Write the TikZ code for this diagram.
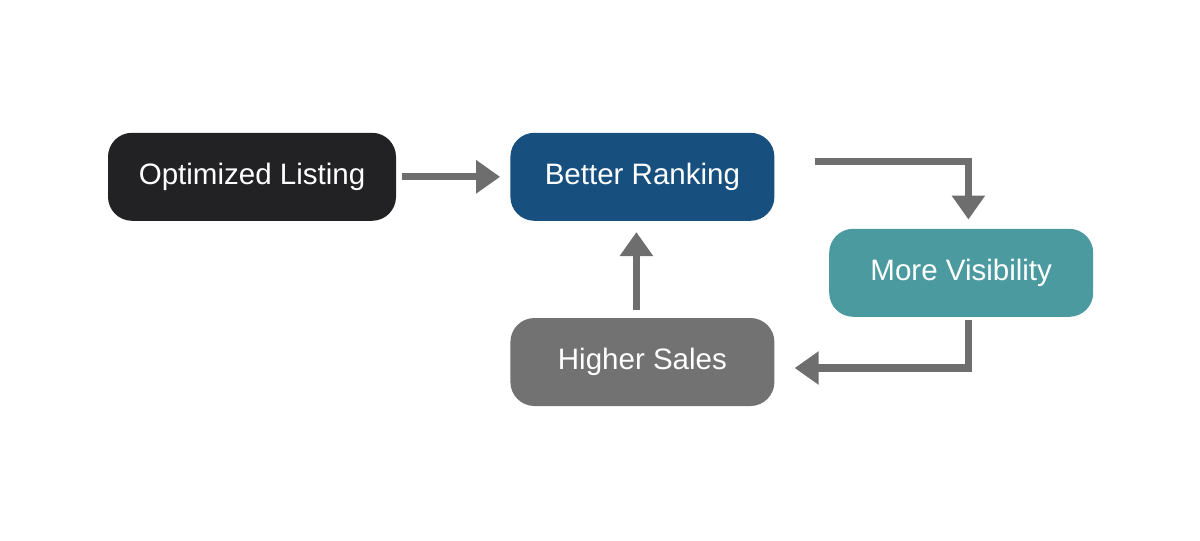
\documentclass[tikz,border=0pt]{standalone}
\usepackage{fontspec}
\setmainfont{Liberation Sans}
\usetikzlibrary{arrows.meta,positioning}
\definecolor{boxblack}{HTML}{222124}
\definecolor{boxblue}{HTML}{17507F}
\definecolor{boxteal}{HTML}{4B9AA0}
\definecolor{boxgray}{HTML}{727272}
\definecolor{arrgray}{HTML}{6E6E6E}
\tikzset{
  box/.style={rounded corners=0.6cm,minimum height=2.2cm,text=white,font=\fontsize{21}{24}\selectfont,inner sep=0pt},
  arr/.style={draw=arrgray,line width=5pt,-{Triangle[length=0.6cm,width=0.8cm]}}
}
\begin{document}
\begin{tikzpicture}
\useasboundingbox (0,0) rectangle (30,-13.5);
\node[box,fill=boxblack,minimum width=7.2cm] (ol) at (6.3,-4.42) {Optimized Listing};
\node[box,fill=boxblue,minimum width=6.6cm] (br) at (16.06,-4.42) {Better Ranking};
\node[box,fill=boxteal,minimum width=6.6cm] (mv) at (24.03,-6.82) {More Visibility};
\node[box,fill=boxgray,minimum width=6.6cm] (hs) at (16.06,-9.05) {Higher Sales};
% arrows around the loop
\draw[arr] ([xshift=0.15cm]ol.east) -- ([xshift=-0.25cm]br.west);
\draw[arr,-{Triangle[length=0.6cm,width=0.8cm]}] ([xshift=1cm,yshift=0.375cm]br.east) -| ([xshift=0.18cm,yshift=0.225cm]mv.north);
\draw[arr] ([xshift=0.18cm,yshift=-0.08cm]mv.south) |- ([xshift=0.5cm,yshift=-0.15cm]hs.east);
\draw[arr] ([xshift=-0.15cm,yshift=0.2cm]hs.north) -- ([xshift=-0.15cm,yshift=-0.275cm]br.south);
\end{tikzpicture}
\end{document}
